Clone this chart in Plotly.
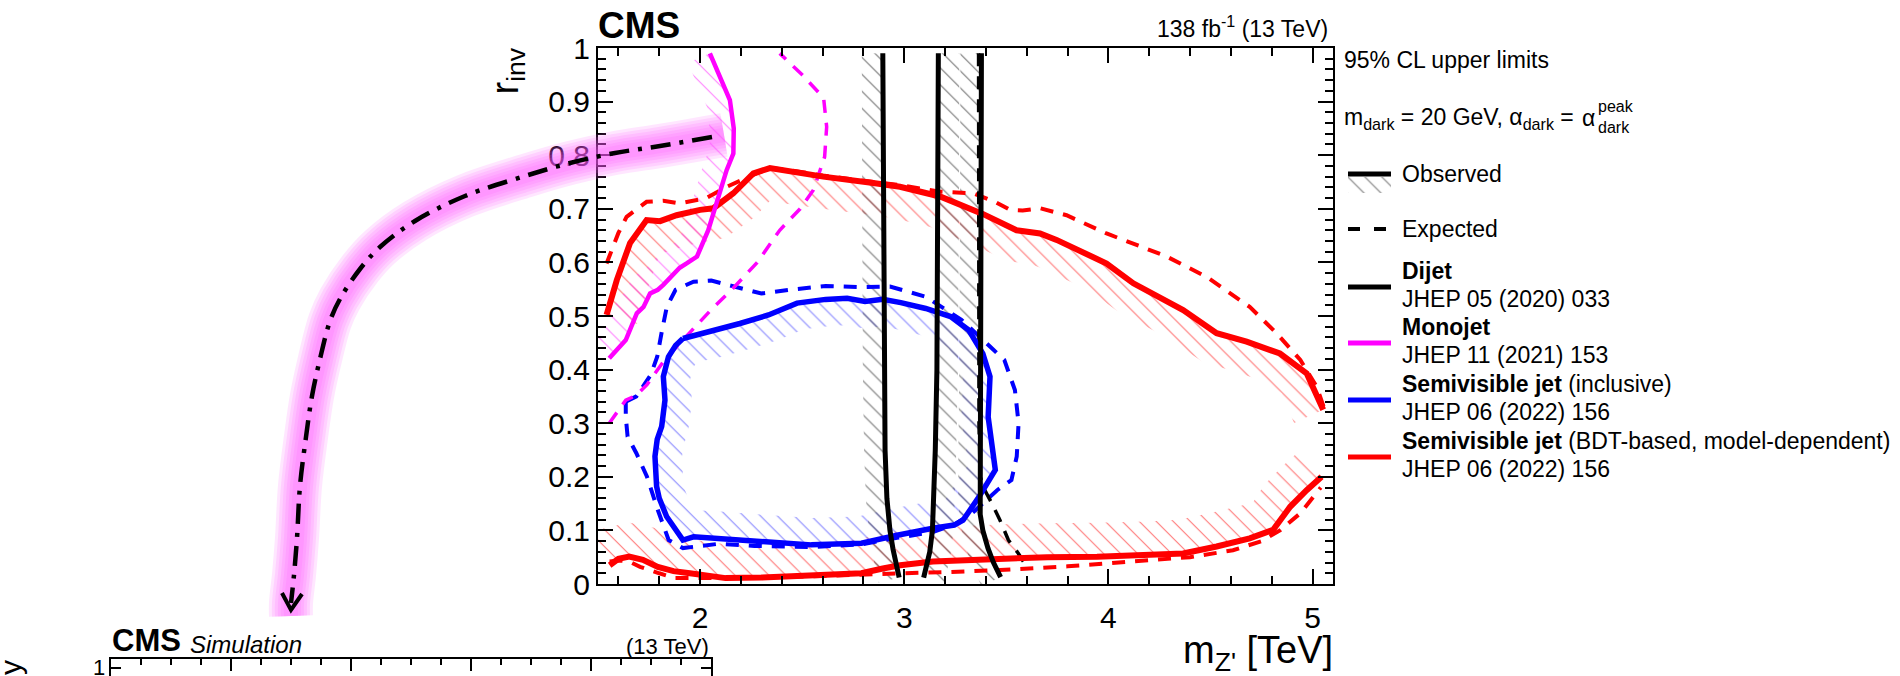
import numpy as np
import plotly.graph_objects as go

# ---------------- limit contours (x: m_Z' in TeV, y: r_inv) ----------------
dijet_obs_a_x = [2.895, 2.897, 2.900, 2.906, 2.915, 2.930, 2.945, 2.960, 2.975]
dijet_obs_a_y = [0.99, 0.70, 0.40, 0.25, 0.16, 0.10, 0.065, 0.035, 0.012]
dijet_obs_b_x = [3.167, 3.165, 3.160, 3.152, 3.145, 3.138, 3.125, 3.110, 3.095]
dijet_obs_b_y = [0.99, 0.70, 0.40, 0.25, 0.16, 0.10, 0.060, 0.035, 0.012]
dijet_obs_c_x = [3.378, 3.376, 3.372, 3.368, 3.367, 3.372, 3.385, 3.410, 3.437, 3.472]
dijet_obs_c_y = [0.99, 0.70, 0.40, 0.25, 0.16, 0.13, 0.10, 0.067, 0.040, 0.013]
dijet_exp_x = [3.364, 3.364, 3.366, 3.372, 3.395, 3.428, 3.469, 3.510, 3.559, 3.600]
dijet_exp_y = [0.99, 0.60, 0.30, 0.20, 0.175, 0.151, 0.119, 0.082, 0.057, 0.032]

monojet_obs_x = [1.555, 1.600, 1.636, 1.690, 1.723, 1.755, 1.793, 1.820, 1.860, 1.900,
                 1.934, 1.985, 2.040, 2.081, 2.130, 2.163, 2.165, 2.146, 2.048]
monojet_obs_y = [0.421, 0.440, 0.455, 0.505, 0.517, 0.542, 0.549, 0.558, 0.575, 0.590,
                 0.598, 0.611, 0.660, 0.710, 0.772, 0.803, 0.850, 0.903, 0.990]
monojet_exp_x = [1.555, 1.600, 1.636, 1.688, 1.740, 1.830, 1.950, 2.050, 2.170, 2.280,
                 2.390, 2.490, 2.555, 2.610, 2.620, 2.605, 2.500, 2.390]
monojet_exp_y = [0.300, 0.325, 0.343, 0.352, 0.372, 0.420, 0.470, 0.510, 0.555, 0.600,
                 0.660, 0.700, 0.735, 0.797, 0.853, 0.907, 0.950, 0.990]

svj_obs_x = [1.916, 2.055, 2.195, 2.335, 2.475, 2.615, 2.720, 2.808, 2.895, 2.983,
             3.105, 3.227, 3.315, 3.385, 3.420, 3.411, 3.437, 3.446, 3.367, 3.288,
             3.245, 3.140, 2.965, 2.790, 2.545, 2.300, 2.090, 1.968, 1.916, 1.875,
             1.836, 1.800, 1.787, 1.779, 1.790, 1.812, 1.828, 1.820, 1.845, 1.880]
svj_obs_y = [0.458, 0.471, 0.486, 0.502, 0.524, 0.531, 0.533, 0.527, 0.531, 0.525,
             0.514, 0.499, 0.474, 0.430, 0.387, 0.312, 0.250, 0.213, 0.163, 0.119,
             0.110, 0.104, 0.091, 0.076, 0.073, 0.079, 0.085, 0.088, 0.082, 0.105,
             0.126, 0.160, 0.182, 0.238, 0.270, 0.294, 0.343, 0.387, 0.424, 0.445]
svj_exp_x = [1.636, 1.688, 1.758, 1.790, 1.812, 1.837, 1.880, 1.968, 2.055, 2.160,
             2.300, 2.440, 2.615, 2.790, 2.930, 3.105, 3.280, 3.420, 3.490, 3.542,
             3.560, 3.551, 3.525, 3.455, 3.385, 3.332, 3.250, 3.140, 2.965, 2.790,
             2.545, 2.266, 2.090, 1.916, 1.846, 1.793, 1.740, 1.688, 1.645, 1.636]
svj_exp_y = [0.340, 0.350, 0.390, 0.424, 0.470, 0.517, 0.549, 0.564, 0.566, 0.555,
             0.542, 0.549, 0.556, 0.554, 0.555, 0.536, 0.493, 0.443, 0.418, 0.362,
             0.300, 0.238, 0.194, 0.175, 0.151, 0.132, 0.112, 0.097, 0.086, 0.074,
             0.069, 0.071, 0.075, 0.067, 0.082, 0.138, 0.200, 0.244, 0.275, 0.312]

bdt_obs_up_x = [1.542, 1.592, 1.657, 1.738, 1.804, 1.885, 2.000, 2.065, 2.163, 2.261,
                2.342, 2.440, 2.603, 2.848, 2.979, 3.175, 3.387, 3.550, 3.665, 3.746,
                3.991, 4.122, 4.366, 4.530, 4.677, 4.840, 4.971, 5.052]
bdt_obs_up_y = [0.502, 0.567, 0.636, 0.679, 0.677, 0.688, 0.698, 0.701, 0.729, 0.766,
                0.776, 0.769, 0.760, 0.748, 0.741, 0.723, 0.690, 0.660, 0.654, 0.642,
                0.598, 0.561, 0.511, 0.468, 0.452, 0.430, 0.393, 0.325]
bdt_exp_up_x = [1.542, 1.600, 1.640, 1.738, 1.820, 1.900, 2.030, 2.130, 2.277, 2.342,
                2.440, 2.600, 2.850, 2.980, 3.175, 3.338, 3.450, 3.518, 3.580, 3.665,
                3.795, 3.991, 4.285, 4.481, 4.692, 4.823, 4.940, 5.020, 5.055]
bdt_exp_up_y = [0.598, 0.655, 0.685, 0.713, 0.715, 0.710, 0.720, 0.741, 0.766, 0.776,
                0.772, 0.762, 0.750, 0.744, 0.732, 0.729, 0.712, 0.698, 0.697, 0.701,
                0.688, 0.654, 0.611, 0.573, 0.517, 0.468, 0.418, 0.368, 0.330]
bdt_obs_lo_x = [1.557, 1.600, 1.653, 1.720, 1.793, 1.870, 1.950, 2.040, 2.125, 2.300,
                2.440, 2.620, 2.790, 2.895, 2.980, 3.140, 3.300, 3.490, 3.700, 3.944,
                4.200, 4.366, 4.530, 4.692, 4.807, 4.890, 4.971, 5.044]
bdt_obs_lo_y = [0.035, 0.047, 0.051, 0.045, 0.032, 0.024, 0.020, 0.014, 0.011, 0.012,
                0.014, 0.016, 0.020, 0.029, 0.035, 0.042, 0.045, 0.048, 0.050, 0.051,
                0.053, 0.057, 0.070, 0.085, 0.101, 0.144, 0.175, 0.200]
bdt_exp_lo_x = [1.557, 1.600, 1.653, 1.706, 1.800, 1.877, 2.000, 2.300, 2.600, 2.800,
                2.979, 3.200, 3.469, 3.800, 4.122, 4.400, 4.610, 4.750, 4.840, 4.940, 5.040]
bdt_exp_lo_y = [0.042, 0.044, 0.042, 0.032, 0.020, 0.011, 0.011, 0.012, 0.015, 0.018,
                0.020, 0.022, 0.026, 0.033, 0.042, 0.050, 0.063, 0.080, 0.100, 0.132, 0.180]

legend_rows = [
    ("<b>Dijet</b>", "JHEP 05 (2020) 033", "black"),
    ("<b>Monojet</b>", "JHEP 11 (2021) 153", "#ff00ff"),
    ("<b>Semivisible jet</b> (inclusive)", "JHEP 06 (2022) 156", "#0000ff"),
    ("<b>Semivisible jet</b> (BDT-based, model-dependent)", "JHEP 06 (2022) 156", "#ff0000"),
]

# ---------------- page geometry (pixels) ----------------
FIG_W, FIG_H = 1900, 676
FR_L, FR_R, FR_T, FR_B = 598, 1333, 48, 584
X_RANGE = [1.5, 5.1]
Y_RANGE = [0.0, 1.0]
PX_PER_X = (FR_R - FR_L) / (X_RANGE[1] - X_RANGE[0])
PX_PER_Y = (FR_B - FR_T) / (Y_RANGE[1] - Y_RANGE[0])
FONT = "Liberation Sans, Arial, Helvetica, sans-serif"
LEG_FONT = 23

RED, BLUE, MAGENTA, BLACK = "#ff0000", "#0000ff", "#ff00ff", "black"
DASH = "13px,10px"

# callout arrow path in page pixels
arrow_path_x = [712, 660, 615, 570, 525, 465, 415, 380, 360, 340, 330, 320, 312, 306, 300, 297, 294, 291]
arrow_path_y = [137, 146, 153, 163, 176, 196, 221, 247, 269, 299, 321, 359, 396, 437, 486, 538, 575, 603]


def px(x):
    return x / FIG_W


def py(y):
    return 1 - y / FIG_H


def hatch_band(xs, ys, width, side, closed=False):
    """Polygon of a strip of given pixel width on one side of a curve."""
    p = np.column_stack([(np.asarray(xs, float) - X_RANGE[0]) * PX_PER_X,
                         (np.asarray(ys, float) - Y_RANGE[0]) * PX_PER_Y])
    seg = np.diff(p, axis=0)
    if closed:
        seg = np.vstack([seg, p[0] - p[-1]])
    seg = seg / np.linalg.norm(seg, axis=1)[:, None]
    nrm = np.column_stack([-seg[:, 1], seg[:, 0]])
    n = len(p)
    vn = np.zeros_like(p)
    for i in range(n):
        if closed:
            v = nrm[i - 1] + nrm[i % len(nrm)]
        else:
            v = nrm[max(i - 1, 0)] + nrm[min(i, len(nrm) - 1)]
        vn[i] = v / max(np.linalg.norm(v), 1e-9)
    o = p + side * width * vn
    if closed:
        poly = np.vstack([p, p[:1], o[:1], o[::-1]])
    else:
        poly = np.vstack([p, o[::-1]])
    return (poly[:, 0] / PX_PER_X + X_RANGE[0], poly[:, 1] / PX_PER_Y + Y_RANGE[0])


def hatch_trace(poly, color, xaxis="x", yaxis="y"):
    return go.Scatter(x=poly[0], y=poly[1], mode="none", fill="toself",
                      fillcolor="rgba(0,0,0,0)",
                      fillpattern=dict(shape="\\", size=12, solidity=0.09, fgcolor=color,
                                       bgcolor="rgba(0,0,0,0)", fillmode="replace"),
                      hoverinfo="skip", showlegend=False, xaxis=xaxis, yaxis=yaxis)


def line_trace(x, y, color, width, dash="solid", shape="linear", xaxis="x", yaxis="y"):
    return go.Scatter(x=x, y=y, mode="lines",
                      line=dict(color=color, width=width, dash=dash, shape=shape),
                      hoverinfo="skip", showlegend=False, xaxis=xaxis, yaxis=yaxis)


fig = go.Figure()

# hatched exclusion strips
fig.add_trace(hatch_trace(hatch_band(bdt_obs_up_x, bdt_obs_up_y, 32, -1), "rgba(255,60,60,0.7)"))
fig.add_trace(hatch_trace(hatch_band(bdt_obs_lo_x, bdt_obs_lo_y, 34, +1), "rgba(255,60,60,0.7)"))
fig.add_trace(hatch_trace(hatch_band(svj_obs_x, svj_obs_y, 27, -1, closed=True), "rgba(70,70,255,0.65)"))
fig.add_trace(hatch_trace(hatch_band(monojet_obs_x, monojet_obs_y, 24, +1), "rgba(255,60,255,0.65)"))
fig.add_trace(hatch_trace(hatch_band(dijet_obs_a_x, dijet_obs_a_y, 21, -1), "rgba(70,70,70,0.75)"))
fig.add_trace(hatch_trace(hatch_band(dijet_obs_b_x, dijet_obs_b_y, 21, +1), "rgba(70,70,70,0.75)"))
fig.add_trace(hatch_trace(hatch_band(dijet_obs_c_x, dijet_obs_c_y, 21, -1), "rgba(70,70,70,0.75)"))

# expected limits
fig.add_trace(line_trace(bdt_exp_up_x, bdt_exp_up_y, RED, 4, DASH))
fig.add_trace(line_trace(bdt_exp_lo_x, bdt_exp_lo_y, RED, 4, DASH))
fig.add_trace(line_trace(svj_exp_x + svj_exp_x[:1], svj_exp_y + svj_exp_y[:1], BLUE, 4, DASH))
fig.add_trace(line_trace(monojet_exp_x, monojet_exp_y, MAGENTA, 3.5, DASH))
fig.add_trace(line_trace(dijet_exp_x, dijet_exp_y, BLACK, 3.5, DASH))

# observed limits
fig.add_trace(line_trace(bdt_obs_up_x, bdt_obs_up_y, RED, 6))
fig.add_trace(line_trace(bdt_obs_lo_x, bdt_obs_lo_y, RED, 6))
fig.add_trace(line_trace(svj_obs_x + svj_obs_x[:1], svj_obs_y + svj_obs_y[:1], BLUE, 5.5))
fig.add_trace(line_trace(monojet_obs_x, monojet_obs_y, MAGENTA, 4.5))
for xs, ys in [(dijet_obs_a_x, dijet_obs_a_y), (dijet_obs_b_x, dijet_obs_b_y),
               (dijet_obs_c_x, dijet_obs_c_y)]:
    fig.add_trace(line_trace(xs, ys, BLACK, 5))

# glowing callout arrow (page pixel axes)
glow_x = [724] + arrow_path_x + [291]
glow_y = [135] + arrow_path_y + [616]
for w in [44, 38, 32, 26, 20, 14]:
    fig.add_trace(line_trace(glow_x, glow_y, "rgba(255,90,255,0.15)", w, shape="spline",
                             xaxis="x2", yaxis="y2"))
fig.add_trace(line_trace(arrow_path_x, arrow_path_y, BLACK, 4.5, "20px,9px,4px,9px",
                         shape="spline", xaxis="x2", yaxis="y2"))
fig.add_trace(line_trace([282, 291, 302], [593, 610, 594], BLACK, 4, xaxis="x2", yaxis="y2"))

# legend samples (page pixel axes)
LEG_X0, LEG_X1 = 1348, 1391
fig.add_trace(hatch_trace(([LEG_X0, LEG_X1, LEG_X1, LEG_X0, LEG_X0], [177, 177, 193, 193, 177]),
                          "rgba(90,90,90,0.8)", xaxis="x2", yaxis="y2"))
fig.add_trace(line_trace([LEG_X0, LEG_X1], [174, 174], BLACK, 5, xaxis="x2", yaxis="y2"))
fig.add_trace(line_trace([LEG_X0, LEG_X1], [229, 229], BLACK, 4, "12px,14px", xaxis="x2", yaxis="y2"))
row_line_y = [287, 343, 400, 457]
for (title, ref, col), ly in zip(legend_rows, row_line_y):
    fig.add_trace(line_trace([LEG_X0, LEG_X1], [ly, ly], col, 5, xaxis="x2", yaxis="y2"))

# anchor trace so the lower panel frame is rendered
fig.add_trace(go.Scatter(x=[0.5], y=[0.5], mode="none", hoverinfo="skip", showlegend=False,
                         xaxis="x3", yaxis="y3"))

annotations = []


def text(s, x, y, size, xanchor="left", yanchor="middle", angle=0):
    annotations.append(dict(text=s, x=px(x), y=py(y), xref="paper", yref="paper",
                            xanchor=xanchor, yanchor=yanchor, showarrow=False,
                            textangle=angle, font=dict(size=size, family=FONT, color="black")))


text("<b>CMS</b>", FR_L - 2, 25, 37)
text("138 fb<sup>-1</sup> (13 TeV)", FR_R - 3, 27, 23, xanchor="right")
text("r<sub>inv</sub>", 507, FR_T - 2, 38, xanchor="center", yanchor="top", angle=-90)
text("m<sub>Z'</sub> [TeV]", FR_R + 2, 653, 38, xanchor="right")

text("95% CL upper limits", 1342, 60, LEG_FONT)
text("m<sub>dark</sub> = 20 GeV, α<sub>dark</sub> =", 1342, 118, LEG_FONT)
text("α", 1580, 118, LEG_FONT)
text("peak", 1596, 107, 16)
text("dark", 1596, 128, 16)
text("Observed", 1400, 174, LEG_FONT)
text("Expected", 1400, 229, LEG_FONT)
for (title, ref, col), ly in zip(legend_rows, row_line_y):
    text(title, 1400, ly - 16, LEG_FONT)
    text(ref, 1400, ly + 12, LEG_FONT)

# partially visible simulation panel below
text("<b>CMS</b>", 110, 640, 31)
text("<i>Simulation</i>", 188, 644, 24)
text("(13 TeV)", 711, 646, 22, xanchor="right")
text("1", 107, 667, 22, xanchor="right")
text("y", 10, 668, 30, xanchor="center", angle=-90)

axis_common = dict(showgrid=False, zeroline=False, showline=True, linecolor="black", linewidth=2,
                   ticks="inside", tickcolor="black", tickwidth=2, mirror="ticks", automargin=False,
                   tickfont=dict(size=30, family=FONT, color="black"))

fig.update_layout(
    width=FIG_W, height=FIG_H,
    margin=dict(l=0, r=0, t=0, b=0, pad=0, autoexpand=False),
    paper_bgcolor="white", plot_bgcolor="rgba(0,0,0,0)", showlegend=False,
    font=dict(family=FONT, color="black"),
    xaxis=dict(domain=[px(FR_L), px(FR_R)], range=X_RANGE, anchor="y", dtick=1, tick0=0,
               ticklen=15, ticklabelstandoff=6,
               minor=dict(dtick=0.2, tick0=0, ticks="inside", ticklen=8,
                          tickwidth=2, tickcolor="black"), **axis_common),
    yaxis=dict(domain=[py(FR_B), py(FR_T)], range=Y_RANGE, anchor="x", dtick=0.1, tick0=0,
               ticklen=15, minor=dict(dtick=0.02, tick0=0, ticks="inside", ticklen=8,
                                      tickwidth=2, tickcolor="black"), **axis_common),
    xaxis2=dict(domain=[0, 1], range=[0, FIG_W], anchor="y2", visible=False, automargin=False),
    yaxis2=dict(domain=[0, 1], range=[FIG_H, 0], anchor="x2", visible=False, automargin=False),
    xaxis3=dict(domain=[px(111), px(711)], range=[0, 1], anchor="y3", side="top",
                showgrid=False, zeroline=False, showline=True, linecolor="black", linewidth=2,
                ticks="inside", ticklen=12, tickwidth=1.5, tickcolor="black", dtick=0.2, tick0=0,
                showticklabels=False, automargin=False,
                minor=dict(dtick=0.05, tick0=0, ticks="inside", ticklen=6, tickwidth=1.5,
                           tickcolor="black")),
    yaxis3=dict(domain=[0, (FIG_H - 659) / FIG_H], range=[0.9, 1.1128], anchor="x3",
                showgrid=False, zeroline=False, showline=True, linecolor="black", linewidth=2,
                ticks="inside", ticklen=10, tickwidth=1.5, tickcolor="black", mirror="ticks",
                automargin=False, tickvals=[1], showticklabels=False),
    annotations=annotations,
)

fig.write_html("out.html")
